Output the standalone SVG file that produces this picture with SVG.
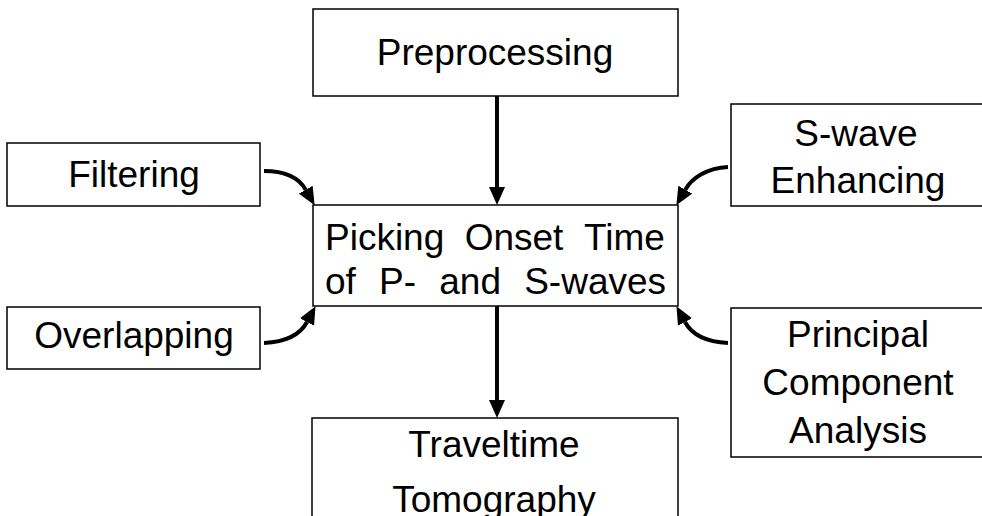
<svg xmlns="http://www.w3.org/2000/svg" width="982" height="516" viewBox="0 0 982 516">
  <style>
    .box { fill: #ffffff; stroke: #000000; stroke-width: 1.5; }
    .lbl { font-family: "Liberation Sans", Arial, sans-serif; font-size: 37px; fill: #000000; }
    .mid { text-anchor: middle; }
    .conn { fill: none; stroke: #000000; stroke-width: 4; }
  </style>
  <defs>
    <marker id="ah" viewBox="0 0 18 16" refX="0" refY="8" markerWidth="18" markerHeight="16" markerUnits="userSpaceOnUse" orient="auto">
      <path d="M0,0 L18,8 L0,16 z" fill="#000000"/>
    </marker>
  </defs>
  <rect width="982" height="516" fill="#ffffff"/>

  <g id="preprocessing">
    <rect class="box" x="313" y="9" width="365" height="87"/>
    <text class="lbl mid" x="495" y="65">Preprocessing</text>
  </g>
  <g id="filtering">
    <rect class="box" x="7" y="143" width="253" height="63"/>
    <text class="lbl mid" x="134" y="187">Filtering</text>
  </g>
  <g id="overlapping">
    <rect class="box" x="7" y="307" width="253" height="62"/>
    <text class="lbl mid" x="134" y="348">Overlapping</text>
  </g>
  <g id="picking">
    <rect class="box" x="313" y="205" width="365" height="101"/>
    <text class="lbl" y="250"><tspan x="325">Picking</tspan><tspan x="464.7">Onset</tspan><tspan x="584">Time</tspan></text>
    <text class="lbl" y="294"><tspan x="325">of</tspan><tspan x="379">P-</tspan><tspan x="439.3">and</tspan><tspan x="524.2">S-waves</tspan></text>
  </g>
  <g id="swave">
    <rect class="box" x="731" y="104" width="275" height="102"/>
    <text class="lbl mid" x="856" y="146">S-wave</text>
    <text class="lbl mid" x="858" y="193">Enhancing</text>
  </g>
  <g id="pca">
    <rect class="box" x="731" y="308" width="275" height="149"/>
    <text class="lbl mid" x="858" y="347">Principal</text>
    <text class="lbl mid" x="858" y="395">Component</text>
    <text class="lbl mid" x="858" y="443">Analysis</text>
  </g>
  <g id="traveltime">
    <rect class="box" x="312" y="418" width="366" height="130"/>
    <text class="lbl mid" x="494" y="457">Traveltime</text>
    <text class="lbl mid" x="494" y="512">Tomography</text>
  </g>

  <g id="connectors">
    <path class="conn" d="M497,96 L497,187" marker-end="url(#ah)"/>
    <path class="conn" d="M497,306 L497,400" marker-end="url(#ah)"/>
    <path class="conn" d="M264,171 C285,171 299,178 305.7,189.7" marker-end="url(#ah)"/>
    <path class="conn" d="M728,167 C707,168 692,178 685.3,189.7" marker-end="url(#ah)"/>
    <path class="conn" d="M264,343 C285,342 300,335 307,322" marker-end="url(#ah)"/>
    <path class="conn" d="M728,343 C707,342 692,335 685,322" marker-end="url(#ah)"/>
  </g>
</svg>
